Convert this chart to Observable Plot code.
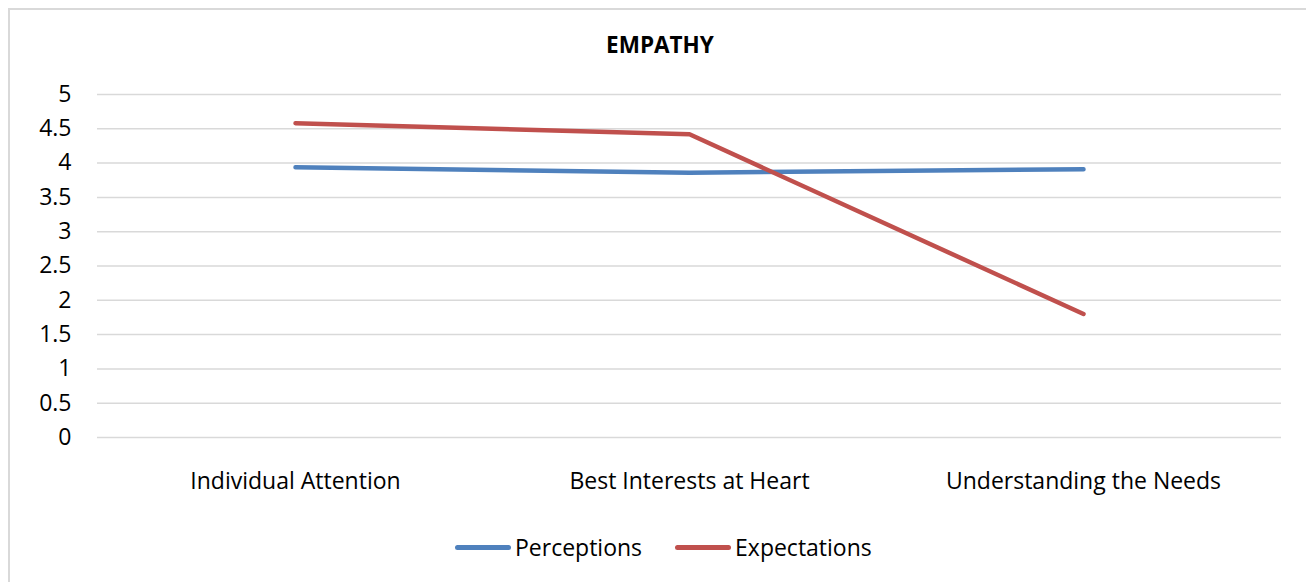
<!DOCTYPE html>
<html>
<head>
<meta charset="utf-8">
<script src="https://cdn.jsdelivr.net/npm/d3@7"></script>
<script src="https://cdn.jsdelivr.net/npm/@observablehq/plot@0.6"></script>
<style>
  html, body { margin: 0; padding: 0; background: #fff; overflow: hidden; width: 1306px; height: 582px; }
  body { position: relative; font-family: "Open Sans", sans-serif; }
  #frame { position: absolute; left: 8px; top: 8px; width: 1400px; height: 700px; border: 2px solid #d9d9d9; box-sizing: border-box; }
  #chart { position: absolute; left: 0; top: 0; }
  #title { position: absolute; top: 30px; left: 0; width: 1320px; text-align: center; font-weight: bold; font-size: 22.5px; line-height: 30px; color: #000; }
  #legend { position: absolute; top: 531px; left: 455px; display: flex; align-items: center; font-size: 23px; line-height: 32px; color: #000; }
  .sw { display: inline-block; width: 56px; height: 5px; border-radius: 3px; margin-right: 4px; }
  .item { display: flex; align-items: center; margin-right: 33px; }
</style>
</head>
<body>
<div id="frame"></div>
<div id="chart"></div>
<div id="title">EMPATHY</div>
<div id="legend"></div>
<script>
const categories = ["Individual Attention", "Best Interests at Heart", "Understanding the Needs"];
const perceptions = [3.94, 3.86, 3.91];
const expectations = [4.58, 4.42, 1.80];
const seriesNames = ["Perceptions", "Expectations"];
const seriesColors = ["#4f81bd", "#c0504d"];
const yTicks = [0, 0.5, 1, 1.5, 2, 2.5, 3, 3.5, 4, 4.5, 5];

const rows = [];
categories.forEach((c, i) => {
  rows.push({category: c, series: seriesNames[0], value: perceptions[i]});
  rows.push({category: c, series: seriesNames[1], value: expectations[i]});
});

const plot = Plot.plot({
  width: 1306,
  height: 582,
  marginLeft: 97,
  marginRight: 25,
  marginTop: 94,
  marginBottom: 145,
  style: {fontFamily: "'Open Sans', sans-serif", fontSize: "23px", color: "#000", background: "transparent"},
  x: {type: "point", domain: categories, padding: 0.5, label: null},
  y: {domain: [0, 5], label: null},
  color: {domain: seriesNames, range: seriesColors},
  marks: [
    Plot.ruleY(yTicks, {stroke: "#d9d9d9", strokeWidth: 1.5}),
    Plot.axisY(yTicks, {tickSize: 0, tickPadding: 26, tickFormat: d => String(d), label: null, fontSize: 23}),
    Plot.axisX({tickSize: 0, tickPadding: 35, label: null, fontSize: 23}),
    Plot.line(rows, {x: "category", y: "value", z: "series", stroke: "series", strokeWidth: 4.5, strokeLinecap: "round", strokeLinejoin: "round"})
  ]
});
document.getElementById("chart").appendChild(plot);

const legend = document.getElementById("legend");
seriesNames.forEach((s, i) => {
  const item = document.createElement("div");
  item.className = "item";
  const sw = document.createElement("span");
  sw.className = "sw";
  sw.style.background = seriesColors[i];
  const t = document.createElement("span");
  t.textContent = s;
  item.appendChild(sw);
  item.appendChild(t);
  legend.appendChild(item);
});
</script>
</body>
</html>
